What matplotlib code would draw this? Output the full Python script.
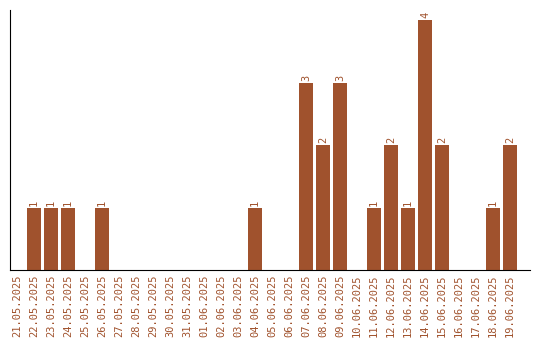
import matplotlib
matplotlib.use('Agg')
import matplotlib.pyplot as plt

dates = ['21.05.2025', '22.05.2025', '23.05.2025', '24.05.2025', '25.05.2025',
         '26.05.2025', '27.05.2025', '28.05.2025', '29.05.2025', '30.05.2025',
         '31.05.2025', '01.06.2025', '02.06.2025', '03.06.2025', '04.06.2025',
         '05.06.2025', '06.06.2025', '07.06.2025', '08.06.2025', '09.06.2025',
         '10.06.2025', '11.06.2025', '12.06.2025', '13.06.2025', '14.06.2025',
         '15.06.2025', '16.06.2025', '17.06.2025', '18.06.2025', '19.06.2025']
counts = [0, 1, 1, 1, 0, 1, 0, 0, 0, 0,
          0, 0, 0, 0, 1, 0, 0, 3, 2, 3,
          0, 1, 2, 1, 4, 2, 0, 0, 1, 2]

color = '#A0522D'
font = 'DejaVu Sans Mono'

fig = plt.figure(figsize=(5.4, 3.4), dpi=100)
ax = fig.add_axes([10 / 540, 70 / 340, 520 / 540, 260 / 340])

x = list(range(len(dates)))
ax.bar(x, counts, width=0.8, color=color)
for xi, c in zip(x, counts):
    if c > 0:
        ax.text(xi, c + 0.03, str(c), rotation=90, ha='center', va='bottom',
                color=color, fontsize=7.5, family=font)

ax.set_xlim(-0.41, 30.18)
ax.set_ylim(0, 4.16)
ax.set_xticks(x)
ax.set_xticklabels(dates, rotation=90, color=color, fontsize=7.5, family=font)
ax.tick_params(axis='x', length=0, pad=3.5)
ax.set_yticks([])
ax.spines['top'].set_visible(False)
ax.spines['right'].set_visible(False)

fig.savefig('out.png', dpi=100)
